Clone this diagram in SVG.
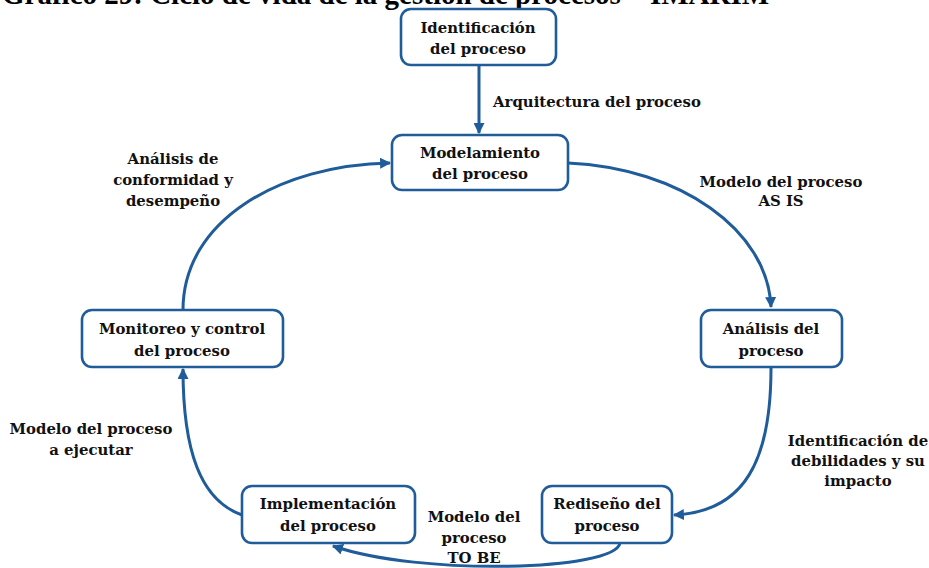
<svg xmlns="http://www.w3.org/2000/svg" width="929" height="568" viewBox="0 0 929 568">
  <defs>
    <style>
      .title { font-family: "Liberation Serif", "Times New Roman", serif; font-weight: bold; font-size: 29px; fill: #000; }
      .box { fill: #fff; stroke: #1f5c99; stroke-width: 2.6; }
      .lbl { font-family: "DejaVu Serif", serif; font-weight: bold; font-size: 14.9px; fill: #111; text-anchor: middle; }
      .lbl-l { text-anchor: start; }
      .conn { fill: none; stroke: #1f5c99; stroke-width: 3; }
    </style>
    <marker id="arrow" viewBox="0 0 10 10" refX="9" refY="5" markerWidth="11" markerHeight="11" markerUnits="userSpaceOnUse" orient="auto">
      <path d="M0,0 L10,5 L0,10 Z" fill="#1f5c99"/>
    </marker>
  </defs>
  <rect width="929" height="568" fill="#fff"/>

  <!-- heading, partly above the top edge -->
  <text class="title" x="2" y="4">Gráfico 29: Ciclo de vida de la gestión de procesos – IMARIM</text>

  <!-- connectors -->
  <g id="connectors">
    <path class="conn" d="M479,66 L479,133" marker-end="url(#arrow)"/>
    <path class="conn" d="M568,163 C680,168 768,230 771,307" marker-end="url(#arrow)"/>
    <path class="conn" d="M771,368 C771,460 745,512 674,515" marker-end="url(#arrow)"/>
    <path class="conn" d="M620,543 C615,571 420,576 333,546" marker-end="url(#arrow)"/>
    <path class="conn" d="M242,515 C200,500 183,450 183,369" marker-end="url(#arrow)"/>
    <path class="conn" d="M183,310 C183,220 280,165 390,163" marker-end="url(#arrow)"/>
  </g>

  <!-- connector labels -->
  <g id="labels">
    <text class="lbl lbl-l" x="493" y="107">Arquitectura del proceso</text>
    <text class="lbl" x="781" y="187">Modelo del proceso</text>
    <text class="lbl" x="781" y="206">AS IS</text>
    <text class="lbl" x="858" y="446">Identificación de</text>
    <text class="lbl" x="858" y="466">debilidades y su</text>
    <text class="lbl" x="858" y="486">impacto</text>
    <text class="lbl" x="474" y="522">Modelo del</text>
    <text class="lbl" x="474" y="543">proceso</text>
    <text class="lbl" x="474" y="563">TO BE</text>
    <text class="lbl" x="91" y="434">Modelo del proceso</text>
    <text class="lbl" x="91" y="455">a ejecutar</text>
    <text class="lbl" x="173" y="164">Análisis de</text>
    <text class="lbl" x="173" y="185">conformidad y</text>
    <text class="lbl" x="173" y="206">desempeño</text>
  </g>

  <g id="node-identificacion">
    <rect class="box" x="401" y="9" width="155" height="56" rx="10"/>
    <text class="lbl" x="478" y="33">Identificación</text>
    <text class="lbl" x="478" y="54">del proceso</text>
  </g>
  <g id="node-modelamiento">
    <rect class="box" x="392" y="135" width="176" height="55" rx="10"/>
    <text class="lbl" x="480" y="158">Modelamiento</text>
    <text class="lbl" x="480" y="179">del proceso</text>
  </g>
  <g id="node-analisis">
    <rect class="box" x="701" y="310" width="141" height="57" rx="10"/>
    <text class="lbl" x="771" y="334">Análisis del</text>
    <text class="lbl" x="771" y="356">proceso</text>
  </g>
  <g id="node-rediseno">
    <rect class="box" x="542" y="486" width="130" height="57" rx="10"/>
    <text class="lbl" x="607" y="509">Rediseño del</text>
    <text class="lbl" x="607" y="531">proceso</text>
  </g>
  <g id="node-implementacion">
    <rect class="box" x="242" y="486" width="173" height="57" rx="10"/>
    <text class="lbl" x="328" y="509">Implementación</text>
    <text class="lbl" x="328" y="531">del proceso</text>
  </g>
  <g id="node-monitoreo">
    <rect class="box" x="82" y="310" width="201" height="57" rx="10"/>
    <text class="lbl" x="182" y="334">Monitoreo y control</text>
    <text class="lbl" x="182" y="356">del proceso</text>
  </g>
</svg>
